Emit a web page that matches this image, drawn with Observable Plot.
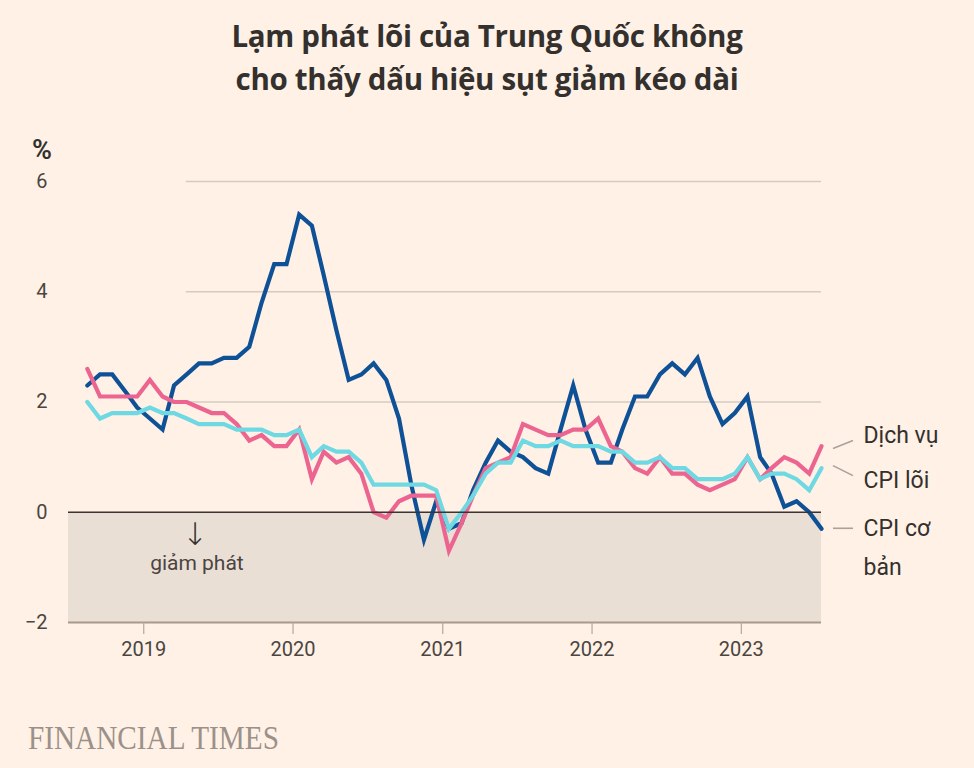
<!DOCTYPE html>
<html>
<head>
<meta charset="utf-8">
<script src="https://cdn.jsdelivr.net/npm/d3@7"></script>
<script src="https://cdn.jsdelivr.net/npm/@observablehq/plot@0.6"></script>
<style>
  html, body { margin: 0; padding: 0; background: #fff1e5; }
  body { width: 974px; height: 768px; position: relative; overflow: hidden; font-family: Roboto, "Open Sans", sans-serif; color: #33302e; }
  #header { position: relative; height: 160px; }
  #title { position: absolute; left: 0; width: 974px; top: 14px; text-align: center; font-family: "Open Sans", sans-serif; font-weight: 700; font-size: 29.5px; line-height: 43px; color: #33302e; letter-spacing: -0.3px; }
  #unit { position: absolute; left: 32px; top: 134px; font-size: 27px; font-weight: 600; color: #33302e; }
  #chart svg { display: block; }
  #ft { position: absolute; left: 28px; top: 721px; font-family: "Liberation Serif", "DejaVu Serif", serif; font-size: 34px; line-height: 34px; color: #9b918a; transform: scaleX(0.86); transform-origin: left; white-space: nowrap; }
</style>
</head>
<body>
<div id="header">
  <div id="title">Lạm phát lõi của Trung Quốc không<br>cho thấy dấu hiệu sụt giảm kéo dài</div>
  <div id="unit">%</div>
</div>
<div id="chart"></div>
<div id="ft">FINANCIAL TIMES</div>
<script>
// Monthly, Aug 2018 – Jul 2023 (year-on-year %)
const startMonth = "2018-08";
const cpiHeadline = [2.3,2.5,2.5,2.2,1.9, 1.7,1.5,2.3,2.5,2.7,2.7,2.8,2.8,3.0,3.8,4.5,4.5,
  5.4,5.2,4.3,3.3,2.4,2.5,2.7,2.4,1.7,0.5,-0.5,0.2,
  -0.3,-0.2,0.4,0.9,1.3,1.1,1.0,0.8,0.7,1.5,2.3,1.5,
  0.9,0.9,1.5,2.1,2.1,2.5,2.7,2.5,2.8,2.1,1.6,1.8,
  2.1,1.0,0.7,0.1,0.2,0.0,-0.3];
const cpiCore = [2.0,1.7,1.8,1.8,1.8, 1.9,1.8,1.8,1.7,1.6,1.6,1.6,1.5,1.5,1.5,1.4,1.4,
  1.5,1.0,1.2,1.1,1.1,0.9,0.5,0.5,0.5,0.5,0.5,0.4,
  -0.3,0.0,0.3,0.7,0.9,0.9,1.3,1.2,1.2,1.3,1.2,1.2,
  1.2,1.1,1.1,0.9,0.9,1.0,0.8,0.8,0.6,0.6,0.6,0.7,
  1.0,0.6,0.7,0.7,0.6,0.4,0.8];
const services = [2.6,2.1,2.1,2.1,2.1, 2.4,2.1,2.0,2.0,1.9,1.8,1.8,1.6,1.3,1.4,1.2,1.2,
  1.5,0.6,1.1,0.9,1.0,0.7,0.0,-0.1,0.2,0.3,0.3,0.3,
  -0.7,-0.2,0.3,0.8,0.9,1.0,1.6,1.5,1.4,1.4,1.5,1.5,
  1.7,1.2,1.1,0.8,0.7,1.0,0.7,0.7,0.5,0.4,0.5,0.6,
  1.0,0.6,0.8,1.0,0.9,0.7,1.2];
const seriesNames = ["CPI cơ bản", "CPI lõi", "Dịch vụ"];
const seriesLabels = ["CPI cơ\nbản", "CPI lõi", "Dịch vụ"];
const seriesColors = ["#0f5196", "#6fd9e3", "#ec6591"];
const yTicks = [-2, 0, 2, 4, 6];
const gridValues = [2, 4, 6];
const deflationLabel = ["↓", "giảm phát"];

const base = d3.utcParse("%Y-%m")(startMonth);
const dateOf = i => d3.utcDay.offset(d3.utcMonth.offset(base, i), 15);
const toRows = (arr, name) => arr.map((v, i) => ({date: dateOf(i), value: v, series: name}));
const rows = [
  ...toRows(cpiHeadline, seriesNames[0]),
  ...toRows(services, seriesNames[2]),
  ...toRows(cpiCore, seriesNames[1])
];
const n = cpiHeadline.length;
const xStart = new Date(Date.UTC(2018, 6, 1));
const xEnd = dateOf(n - 1);
const gridStart = new Date(Date.UTC(2019, 3, 15));
const lastDate = dateOf(n - 1);

const colorOf = name => seriesColors[seriesNames.indexOf(name)];
const seriesArrays = [cpiHeadline, cpiCore, services];
const lastRows = seriesNames.map((name, k) => ({series: name, label: seriesLabels[k], date: lastDate, value: seriesArrays[k][n - 1]}));
const endLabel = (name, dy) => Plot.text(lastRows.filter(d => d.series === name), {
  x: "date", y: "value", text: "label", dx: 42, dy,
  textAnchor: "start", lineAnchor: "middle", lineHeight: 1.72, fontSize: 23, fill: "#33302e"
});

const plot = Plot.plot({
  width: 974,
  height: 522,
  marginTop: 21,
  marginBottom: 60,
  marginLeft: 68,
  marginRight: 153,
  style: {background: "transparent", fontFamily: "Roboto, sans-serif", color: "#4a4541"},
  x: {type: "utc", domain: [xStart, xEnd]},
  y: {domain: [-2, 6]},
  marks: [
    Plot.rect([0], {x1: xStart, x2: xEnd, y1: -2, y2: 0, fill: "#eadfd5"}),
    Plot.ruleY(gridValues, {x1: gridStart, x2: xEnd, stroke: "#d6cbc1", strokeWidth: 1.5}),
    Plot.ruleY([-2], {x1: xStart, x2: xEnd, stroke: "#a8998c", strokeWidth: 2}),
    Plot.axisX({ticks: d3.utcYear.every(1), tickFormat: "%Y", tickSize: 12, tickPadding: 7, stroke: "#b3a79d", strokeWidth: 1.2, fill: "#4a4541", label: null}),
    Plot.axisY({ticks: yTicks, tickSize: 0, tickPadding: 21, fill: "#4a4541", label: null}),
    Plot.line(rows, {x: "date", y: "value", z: "series", stroke: d => colorOf(d.series), strokeWidth: 4.2, strokeLinejoin: "miter", strokeMiterlimit: 6}),
    Plot.ruleY([0], {x1: xStart, x2: xEnd, stroke: "#3a3532", strokeWidth: 1.5}),
    Plot.text([deflationLabel[0]], {x: new Date(Date.UTC(2019, 4, 7)), y: -0.42, text: d => d, fontSize: 31, fontFamily: "DejaVu Sans", fontWeight: 300, fill: "#33302e"}),
    Plot.text([deflationLabel[1]], {x: new Date(Date.UTC(2019, 4, 11)), y: -0.93, text: d => d, fontSize: 21, fill: "#4a4541"}),
    endLabel("Dịch vụ", -16),
    endLabel("CPI lõi", 7),
    endLabel("CPI cơ bản", 14)
  ]
});
document.getElementById("chart").appendChild(plot);

// enlarge the axis tick labels
d3.select(plot).selectAll("g[aria-label$='axis tick label']").attr("font-size", 20).style("font-size", "20px");
d3.select(plot).selectAll("g[aria-label$='axis tick label'] text").style("font-size", "20px");

// connector lines from each series' end to its label, placed through the plot's own scales
const sx = plot.scale("x"), sy = plot.scale("y");
const svg = d3.select(plot);
const connectorShift = {"Dịch vụ": [3, -5], "CPI lõi": [-2, 8], "CPI cơ bản": [0, 0]};
lastRows.forEach(d => {
  const px = sx.apply(d.date), py = sy.apply(d.value);
  const [a, b] = connectorShift[d.series];
  svg.append("line")
    .attr("x1", px + 12).attr("y1", py + a)
    .attr("x2", px + 32).attr("y2", py + b)
    .attr("stroke", "#a9a19a").attr("stroke-width", 1.6);
});
</script>
</body>
</html>
